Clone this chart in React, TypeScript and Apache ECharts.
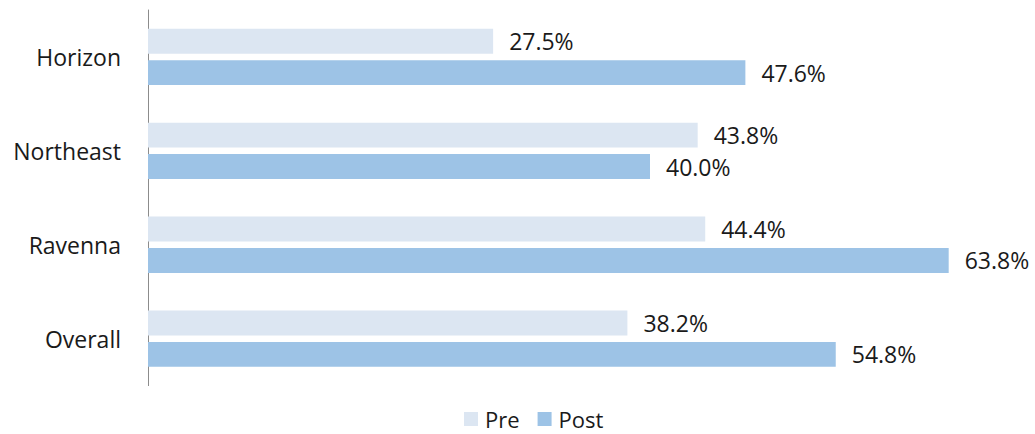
import React, { useEffect, useRef } from "react";
import * as echarts from "echarts";

const categories = ["Horizon", "Northeast", "Ravenna", "Overall"];
const preValues = [27.5, 43.8, 44.4, 38.2];
const postValues = [47.6, 40.0, 63.8, 54.8];
const seriesNames = ["Pre", "Post"];

const FONT = "'Open Sans', sans-serif";
const FS = 23;

export default function App() {
  const ref = useRef<HTMLDivElement>(null);
  useEffect(() => {
    if (!ref.current) return;
    const chart = echarts.init(ref.current, undefined, { renderer: "svg" });
    const label = {
      show: true,
      position: "right",
      distance: 16,
      color: "#1a1a1a",
      fontFamily: FONT,
      fontSize: FS,
      formatter: (p: any) => `${Number(p.value).toFixed(1)}%`,
    };
    chart.setOption({
      animation: false,
      backgroundColor: "#ffffff",
      grid: { left: 148, right: 8.5, top: 10, bottom: 48.4, containLabel: false },
      xAxis: {
        type: "value",
        min: 0,
        max: 70,
        axisLine: { show: false },
        axisTick: { show: false },
        axisLabel: { show: false },
        splitLine: { show: false },
      },
      yAxis: {
        type: "category",
        data: categories,
        inverse: true,
        axisLine: { show: true, lineStyle: { color: "#8c8c8c", width: 1 } },
        axisTick: { show: false },
        axisLabel: {
          color: "#1a1a1a",
          fontFamily: FONT,
          fontSize: FS,
          margin: 27,
        },
      },
      legend: {
        data: seriesNames,
        left: 464,
        top: 408,
        itemWidth: 14,
        itemHeight: 14,
        itemGap: 18,
        icon: "rect",
        padding: 0,
        textStyle: {
          color: "#1a1a1a",
          fontFamily: FONT,
          fontSize: 22,
          lineHeight: 20,
          padding: [0, 0, 0, 2],
        },
      },
      series: [
        {
          name: seriesNames[0],
          type: "bar",
          data: preValues,
          barCategoryGap: "40%",
          barGap: "26%",
          itemStyle: { color: "#dce6f2" },
          label,
        },
        {
          name: seriesNames[1],
          type: "bar",
          data: postValues,
          barCategoryGap: "40%",
          barGap: "26%",
          itemStyle: { color: "#9dc3e6" },
          label,
        },
      ],
    });
    return () => chart.dispose();
  }, []);
  return (
    <div
      ref={ref}
      style={{ position: "fixed", left: 0, top: 0, width: 1035, height: 434 }}
    />
  );
}
